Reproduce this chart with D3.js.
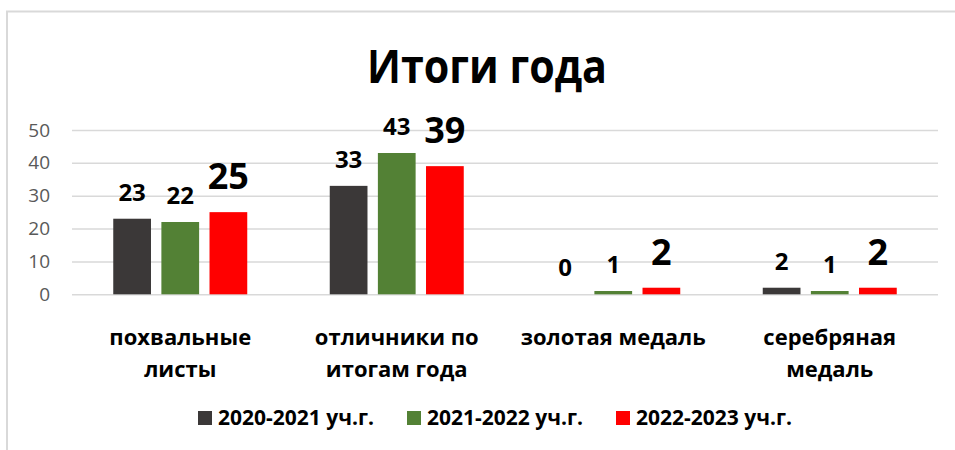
<!DOCTYPE html>
<html>
<head>
<meta charset="utf-8">
<script src="https://d3js.org/d3.v7.min.js"></script>
<style>
  body { margin: 0; background: #fff; }
  svg { display: block; font-family: "Open Sans", sans-serif; }
</style>
</head>
<body>
<script>
// Data
var categories = [["похвальные", "листы"], ["отличники по", "итогам года"], ["золотая медаль"], ["серебряная", "медаль"]];
var seriesNames = ["2020-2021 уч.г.", "2021-2022 уч.г.", "2022-2023 уч.г."];
var values2021 = [23, 33, 0, 2];
var values2022 = [22, 43, 1, 1];
var values2023 = [25, 39, 2, 2];
var yTicks = [0, 10, 20, 30, 40, 50];

var colors = ["#3b3838", "#538135", "#ff0000"];
var w = 955, h = 450;
var plotLeft = 72, plotRight = 938, plotTop = 130, plotBottom = 294.3;

var svg = d3.select("body").append("svg")
  .attr("width", w)
  .attr("height", h);

// chart frame
svg.append("rect")
  .attr("x", 7).attr("y", 11.5)
  .attr("width", 980).attr("height", 460)
  .attr("fill", "none")
  .attr("stroke", "#d9d9d9")
  .attr("stroke-width", 2);

var catIdx = categories.map(function(d, i) { return i; });

var x0 = d3.scaleBand()
  .domain(catIdx)
  .range([plotLeft, plotRight]);

var x1 = d3.scaleBand()
  .domain([0, 1, 2])
  .range([(x0.bandwidth() - 134) / 2, (x0.bandwidth() + 134) / 2])
  .paddingInner(0.216);

var y = d3.scaleLinear()
  .domain([0, 50])
  .range([plotBottom, plotTop]);

// gridlines + y labels
var yAxis = svg.append("g")
  .attr("transform", "translate(" + plotLeft + ",0)")
  .call(d3.axisLeft(y).tickValues(yTicks).tickSize(-(plotRight - plotLeft)).tickPadding(22));
yAxis.select(".domain").remove();
yAxis.selectAll("line").attr("stroke", "#d9d9d9").attr("stroke-width", 1.5);
yAxis.selectAll("text")
  .attr("fill", "#595959")
  .attr("font-size", 19)
  .attr("font-family", "Open Sans, sans-serif");

// bars
var series = [values2021, values2022, values2023];
var rows = [];
series.forEach(function(vals, s) {
  vals.forEach(function(v, c) { rows.push({ s: s, c: c, v: v }); });
});

svg.append("g").selectAll("rect")
  .data(rows)
  .enter().append("rect")
    .attr("x", function(d) { return x0(d.c) + x1(d.s); })
    .attr("y", function(d) { return y(d.v); })
    .attr("width", x1.bandwidth())
    .attr("height", function(d) { return y(0) - y(d.v); })
    .attr("fill", function(d) { return colors[d.s]; });

// data labels (last series is bigger)
svg.append("g").selectAll("text")
  .data(rows)
  .enter().append("text")
    .attr("x", function(d) { return x0(d.c) + x1(d.s) + x1.bandwidth() / 2; })
    .attr("y", function(d) { return y(d.v) - (d.s == 2 ? 23 : 18); })
    .attr("text-anchor", "middle")
    .attr("font-weight", "bold")
    .attr("font-size", function(d) { return d.s == 2 ? 36 : 24; })
    .attr("fill", "#000")
    .text(function(d) { return d.v; });

// category labels
var cat = svg.append("g").selectAll("text")
  .data(categories)
  .enter().append("text")
    .attr("text-anchor", "middle")
    .attr("font-weight", "bold")
    .attr("font-size", 22)
    .attr("fill", "#000");
cat.selectAll("tspan")
  .data(function(d, i) { return d.map(function(t) { return { t: t, i: i }; }); })
  .enter().append("tspan")
    .attr("x", function(d) { return x0(d.i) + x0.bandwidth() / 2; })
    .attr("y", function(d, j) { return 345 + j * 32; })
    .text(function(d) { return d.t; });

// title
svg.append("text")
  .attr("x", 487)
  .attr("y", 83)
  .attr("text-anchor", "middle")
  .attr("font-weight", "bold")
  .attr("font-size", 46)
  .attr("textLength", 240)
  .attr("lengthAdjust", "spacingAndGlyphs")
  .attr("fill", "#000")
  .text("Итоги года");

// legend
var legX = [198, 407, 616];
var legend = svg.append("g").selectAll("g")
  .data(seriesNames)
  .enter().append("g")
    .attr("transform", function(d, i) { return "translate(" + legX[i] + ",0)"; });
legend.append("rect")
  .attr("x", 0).attr("y", 411)
  .attr("width", 14).attr("height", 14)
  .attr("fill", function(d, i) { return colors[i]; });
legend.append("text")
  .attr("x", 20).attr("y", 425)
  .attr("font-weight", "bold")
  .attr("font-size", 21)
  .attr("fill", "#000")
  .text(function(d) { return d; });
</script>
</body>
</html>
